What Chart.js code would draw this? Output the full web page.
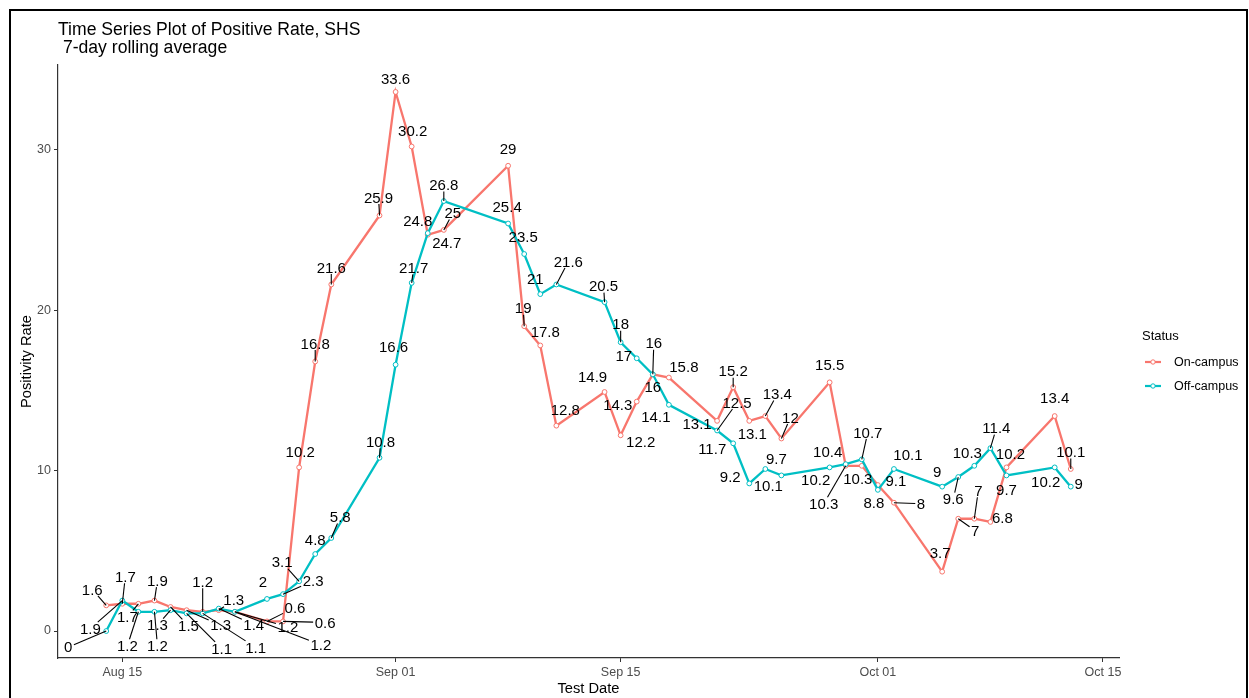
<!DOCTYPE html>
<html>
<head>
<meta charset="utf-8">
<script src="https://cdn.jsdelivr.net/npm/chart.js@4.4.1/dist/chart.umd.min.js"></script>
<style>
  html, body { margin: 0; padding: 0; background: #ffffff; }
  #wrap { width: 1249px; height: 698px; position: relative; }
</style>
</head>
<body>
<div id="wrap"><canvas id="chart" width="1249" height="698"></canvas></div>
<script>
// ---------------- data ----------------
const testDates = [
  "2020-08-14","2020-08-15","2020-08-16","2020-08-17","2020-08-18","2020-08-19","2020-08-20",
  "2020-08-21","2020-08-22","2020-08-24","2020-08-25","2020-08-26","2020-08-27","2020-08-28",
  "2020-08-31","2020-09-01","2020-09-02","2020-09-03","2020-09-04","2020-09-08","2020-09-09",
  "2020-09-10","2020-09-11","2020-09-14","2020-09-15","2020-09-16","2020-09-17","2020-09-18",
  "2020-09-21","2020-09-22","2020-09-23","2020-09-24","2020-09-25","2020-09-28","2020-09-29",
  "2020-09-30","2020-10-01","2020-10-02","2020-10-05","2020-10-06","2020-10-07","2020-10-08",
  "2020-10-09","2020-10-12","2020-10-13"
];
const onCampusValues = [
  1.6,1.7,1.7,1.9,1.5,1.3,1.2,1.3,1.2,0.6,0.6,10.2,16.8,21.6,25.9,33.6,30.2,24.7,25,29,19,
  17.8,12.8,14.9,12.2,14.3,16,15.8,13.1,15.2,13.1,13.4,12,15.5,10.3,10.3,9.1,8,3.7,7,7,6.8,
  10.2,13.4,10.1
];
const offCampusValues = [
  0,1.9,1.2,1.2,1.3,1.1,1.1,1.4,1.2,2,2.3,3.1,4.8,5.8,10.8,16.6,21.7,24.8,26.8,25.4,23.5,
  21,21.6,20.5,18,17,16,14.1,12.5,11.7,9.2,10.1,9.7,10.2,10.4,10.7,8.8,10.1,9,9.6,10.3,11.4,
  9.7,10.2,9
];
const seriesNames = ["On-campus", "Off-campus"];
const xTickDates = ["2020-08-15","2020-09-01","2020-09-15","2020-10-01","2020-10-15"];
const xTickLabels = ["Aug 15","Sep 01","Sep 15","Oct 01","Oct 15"];
const yTickValues = [0, 10, 20, 30];

// ---------------- label placement (pixel offsets from each point: dx, dy, draw segment) ----------------
const onLabelLayout = [
  [-14,-16,1],[3,-27,1],[-11,13,1],[3,-20,1],[18,19,1],[34,15,1],[0,-30,1],[15,-10,1],[53,15,1],[28,-14,1],[42,1,1],
  [1,-16,0],[0,-18,1],[0,-17,1],[-1,-18,1],[0,-13,0],[1,-16,0],[19,8,0],[9,-17,1],[0,-17,0],[-1,-18,1],[5,-14,0],
  [9,-16,0],[-12,-15,0],[20,7,0],[-19,3,0],[0,13,0],[15,-11,0],[-20,3,0],[0,-16,1],[3,13,0],[12,-22,1],[9,-21,1],
  [0,-17,0],[-22,38,1],[-4,13,0],[18,-4,0],[27,1,1],[-2,-19,0],[17,12,1],[4,-28,1],[12,-4,0],[4,-14,0],[0,-18,0],[0,-17,1]
];
const offLabelLayout = [
  [-38,16,1],[-32,28,1],[-11,34,1],[3,34,1],[-13,15,1],[35,35,1],[53,34,1],[35,16,1],[86,33,1],[-4,-17,0],[30,-13,1],[-17,-19,1],
  [0,-14,0],[9,-21,1],[1,-16,1],[-2,-18,0],[2,-15,1],[-10,-12,0],[0,-16,1],[-1,-17,0],[-1,-17,0],[-5,-15,0],[12,-23,1],
  [-1,-16,1],[0,-18,1],[-13,-2,0],[1,-31,1],[-13,12,0],[20,-28,1],[-21,6,0],[-19,-7,0],[3,17,0],[-5,-17,0],[-14,12,0],
  [-18,-12,0],[6,-27,1],[-4,13,0],[14,-14,0],[-5,-15,0],[-5,22,1],[-7,-13,0],[6,-20,1],[0,14,0],[-9,14,0],[8,-3,0]
];

// ---------------- helpers ----------------
const DAY = 86400000;
const dayNum = s => Date.parse(s) / DAY;
const fmt = v => String(Math.round(v * 10) / 10);
const RED = "#F8766D", CYAN = "#00BFC4";
const FONT = "'Liberation Sans', Arial, sans-serif";

const allVals = onCampusValues.concat(offCampusValues);
const yMinData = Math.min(...allVals), yMaxData = Math.max(...allVals);
const yPad = (yMaxData - yMinData) * 0.05;
const xMinData = dayNum(testDates[0]), xMaxData = dayNum(testDates[testDates.length - 1]);
const xPad = (xMaxData - xMinData) * 0.05;

const toPoints = vals => testDates.map((d, i) => ({ x: dayNum(d), y: vals[i] }));

// ---------------- plugins ----------------
const decorPlugin = {
  id: "decor",
  beforeDraw(chart) {
    const ctx = chart.ctx;
    ctx.save();
    ctx.fillStyle = "#ffffff";
    ctx.fillRect(0, 0, chart.width, chart.height);
    ctx.restore();
  },
  afterDraw(chart) {
    const ctx = chart.ctx;
    ctx.save();
    // outer frame
    ctx.strokeStyle = "#000";
    ctx.lineWidth = 2;
    ctx.strokeRect(10, 10, 1237, 700);
    // title + subtitle
    ctx.fillStyle = "#000";
    ctx.textBaseline = "alphabetic";
    ctx.textAlign = "left";
    ctx.font = "17.6px " + FONT;
    ctx.fillText("Time Series Plot of Positive Rate, SHS", chart.chartArea.left, 35);
    ctx.fillText(" 7-day rolling average", chart.chartArea.left, 53);
    // legend
    const lx = 1142;
    ctx.font = "13px " + FONT;
    ctx.textBaseline = "middle";
    ctx.fillText("Status", lx, 336);
    const keys = [[RED, 362], [CYAN, 386]];
    keys.forEach((k, i) => {
      const [col, ky] = k;
      ctx.strokeStyle = col;
      ctx.lineWidth = 2.2;
      ctx.beginPath();
      ctx.moveTo(lx + 3, ky); ctx.lineTo(lx + 19, ky);
      ctx.stroke();
      ctx.beginPath();
      ctx.arc(lx + 11, ky, 2.2, 0, Math.PI * 2);
      ctx.fillStyle = "#fff"; ctx.fill();
      ctx.lineWidth = 1; ctx.stroke();
      ctx.fillStyle = "#000";
      ctx.font = "12.5px " + FONT;
      ctx.fillText(seriesNames[i], lx + 32, ky + 1);
    });
    ctx.restore();
  }
};

const repelLabelPlugin = {
  id: "repelLabels",
  afterDatasetsDraw(chart) {
    const ctx = chart.ctx;
    const layouts = [onLabelLayout, offLabelLayout];
    ctx.save();
    ctx.font = "15px " + FONT;
    ctx.textAlign = "center";
    ctx.textBaseline = "middle";
    chart.data.datasets.forEach((ds, di) => {
      const meta = chart.getDatasetMeta(di);
      meta.data.forEach((pt, j) => {
        const text = fmt(ds.data[j].y);
        const [dx, dy, seg] = layouts[di][j];
        const cx = pt.x + dx, cy = pt.y + dy;
        const hw = ctx.measureText(text).width / 2 + 1.5, hh = 6.5;
        if (seg) {
          const vx = pt.x - cx, vy = pt.y - cy;
          const t = Math.min(vx !== 0 ? hw / Math.abs(vx) : Infinity, vy !== 0 ? hh / Math.abs(vy) : Infinity);
          if (t < 1) {
            ctx.strokeStyle = "#000";
            ctx.lineWidth = 1.1;
            ctx.beginPath();
            ctx.moveTo(pt.x, pt.y);
            ctx.lineTo(cx + vx * t, cy + vy * t);
            ctx.stroke();
          }
        }
      });
    });
    chart.data.datasets.forEach((ds, di) => {
      const meta = chart.getDatasetMeta(di);
      meta.data.forEach((pt, j) => {
        const text = fmt(ds.data[j].y);
        const [dx, dy] = layouts[di][j];
        ctx.fillStyle = "#000";
        ctx.fillText(text, pt.x + dx, pt.y + dy + 1);
      });
    });
    ctx.restore();
  }
};

// ---------------- chart ----------------
const lineDataset = (name, vals, col, order) => ({
  label: name,
  data: toPoints(vals),
  borderColor: col,
  backgroundColor: col,
  borderWidth: 2.3,
  pointRadius: 2.4,
  pointBorderWidth: 1,
  pointBackgroundColor: "#ffffff",
  pointBorderColor: col,
  tension: 0,
  fill: false,
  order: order
});

new Chart(document.getElementById("chart"), {
  type: "line",
  data: {
    datasets: [
      lineDataset(seriesNames[0], onCampusValues, RED, 1),
      lineDataset(seriesNames[1], offCampusValues, CYAN, 0)
    ]
  },
  options: {
    responsive: false,
    devicePixelRatio: 1,
    animation: false,
    events: [],
    layout: { padding: { left: 10, right: 130, top: 65, bottom: 0 } },
    plugins: {
      legend: { display: false },
      title: { display: false },
      tooltip: { enabled: false }
    },
    scales: {
      x: {
        type: "linear",
        min: xMinData - xPad,
        max: xMaxData + xPad,
        afterBuildTicks(s) { s.ticks = xTickDates.map(d => ({ value: dayNum(d) })); },
        afterFit(s) { s.height = 40; },
        ticks: {
          autoSkip: false, maxRotation: 0, padding: 3,
          color: "#4D4D4D",
          font: { family: FONT, size: 12.5 },
          callback: (v, i) => xTickLabels[i]
        },
        grid: { display: true, drawOnChartArea: false, drawTicks: true, tickLength: 4, color: "#333333", lineWidth: 1 },
        border: { display: true, color: "#333333", width: 1.2 },
        title: { display: true, text: "Test Date", color: "#000", font: { family: FONT, size: 14.7 }, padding: { top: 0, bottom: 0 } }
      },
      y: {
        type: "linear",
        min: yMinData - yPad,
        max: yMaxData + yPad,
        afterBuildTicks(s) { s.ticks = yTickValues.map(v => ({ value: v })); },
        afterFit(s) { s.width = 48; },
        ticks: {
          padding: 3,
          color: "#4D4D4D",
          font: { family: FONT, size: 12.5 },
          callback: v => String(v)
        },
        grid: { display: true, drawOnChartArea: false, drawTicks: true, tickLength: 4, color: "#333333", lineWidth: 1 },
        border: { display: true, color: "#333333", width: 1.2 },
        title: { display: true, text: "Positivity Rate", color: "#000", font: { family: FONT, size: 14.7 }, padding: { top: 8, bottom: 0 } }
      }
    }
  },
  plugins: [decorPlugin, repelLabelPlugin]
});
</script>
</body>
</html>
